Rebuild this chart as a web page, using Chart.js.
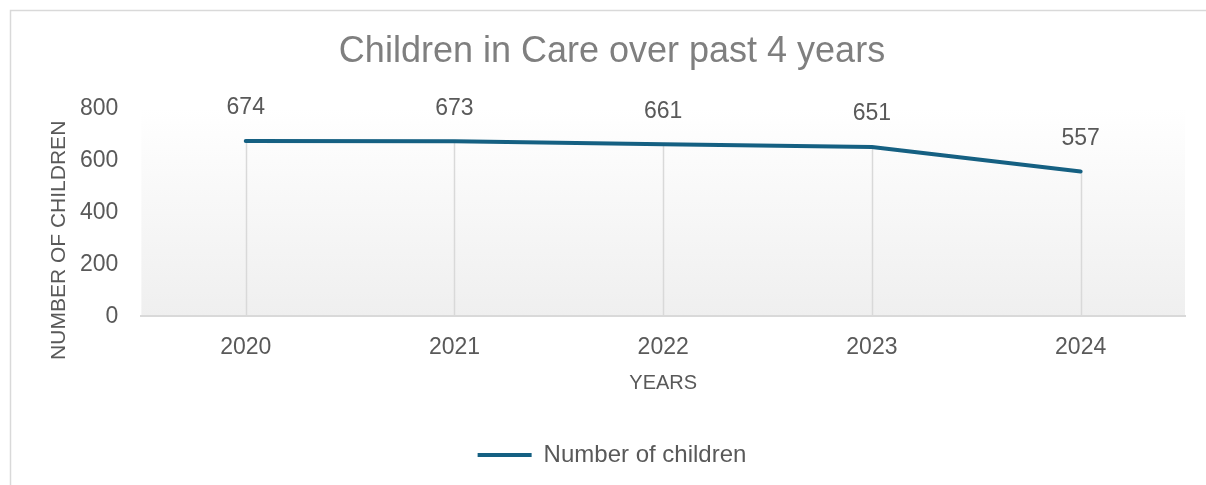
<!DOCTYPE html>
<html>
<head>
<meta charset="utf-8">
<title>Children in Care</title>
<script src="https://cdn.jsdelivr.net/npm/chart.js@4.4.1/dist/chart.umd.min.js"></script>
<style>
  html, body { margin: 0; padding: 0; background: #ffffff; }
  #wrap { position: relative; width: 1206px; height: 485px; }
</style>
</head>
<body>
<div id="wrap"><canvas id="careChart"></canvas></div>
<script>
// Chart data
const years = ['2020', '2021', '2022', '2023', '2024'];
const childrenCounts = [674, 673, 661, 651, 557];
const yTicks = [0, 200, 400, 600, 800];
const yAxisTitle = 'NUMBER OF CHILDREN';

const FONT = "'Liberation Sans', Arial, sans-serif";
const LINE_COLOR = '#156082';
const TEXT_COLOR = '#595959';

// Frame, plot gradient and drop lines drawn under the series
const backdrop = {
    id: 'backdrop',
    beforeDraw(chart) {
        const { ctx, chartArea: a, width, height } = chart;
        ctx.save();
        ctx.strokeStyle = '#d9d9d9';
        ctx.lineWidth = 1.5;
        ctx.beginPath();
        ctx.moveTo(10.5, height);
        ctx.lineTo(10.5, 10.5);
        ctx.lineTo(width, 10.5);
        ctx.stroke();

        const g = ctx.createLinearGradient(0, a.top, 0, a.bottom);
        g.addColorStop(0, '#ffffff');
        g.addColorStop(1, '#efefef');
        ctx.fillStyle = g;
        ctx.fillRect(a.left, a.top, a.right - a.left, a.bottom - a.top);

        // vertical axis title sits a little below the plot centre
        ctx.translate(59, (a.top + a.bottom) / 2 + 28);
        ctx.rotate(-Math.PI / 2);
        ctx.fillStyle = TEXT_COLOR;
        ctx.font = '21px ' + FONT;
        ctx.textAlign = 'center';
        ctx.textBaseline = 'middle';
        ctx.fillText(yAxisTitle, 0, 0);
        ctx.restore();
    },
    beforeDatasetsDraw(chart) {
        const { ctx } = chart;
        const yScale = chart.scales.y;
        const base = yScale.getPixelForValue(0);
        ctx.save();
        ctx.strokeStyle = '#d9d9d9';
        ctx.lineWidth = 1.5;
        chart.getDatasetMeta(0).data.forEach(pt => {
            ctx.beginPath();
            ctx.moveTo(Math.round(pt.x) + 0.5, pt.y);
            ctx.lineTo(Math.round(pt.x) + 0.5, base);
            ctx.stroke();
        });
        ctx.restore();
    }
};

// Value labels above each point
const valueLabels = {
    id: 'valueLabels',
    afterDatasetsDraw(chart) {
        const { ctx } = chart;
        const ds = chart.data.datasets[0];
        ctx.save();
        ctx.fillStyle = TEXT_COLOR;
        ctx.font = '23px ' + FONT;
        ctx.textAlign = 'center';
        ctx.textBaseline = 'middle';
        chart.getDatasetMeta(0).data.forEach((pt, i) => {
            ctx.fillText(String(ds.data[i]), pt.x, pt.y - 33);
        });
        ctx.restore();
    }
};

const ctx = document.getElementById('careChart').getContext('2d');
new Chart(ctx, {
    type: 'line',
    data: {
        labels: years,
        datasets: [{
            label: 'Number of children',
            data: childrenCounts,
            borderColor: LINE_COLOR,
            backgroundColor: LINE_COLOR,
            borderWidth: 4,
            borderCapStyle: 'round',
            borderJoinStyle: 'round',
            tension: 0,
            pointRadius: 0,
            pointHoverRadius: 0,
            fill: false
        }]
    },
    options: {
        responsive: true,
        maintainAspectRatio: false,
        animation: false,
        layout: {
            padding: { left: 39, right: 21, top: 10, bottom: 8 }
        },
        scales: {
            x: {
                offset: true,
                grid: { display: false, drawTicks: false },
                border: { display: true, color: '#d9d9d9', width: 2 },
                ticks: {
                    color: TEXT_COLOR,
                    font: { family: FONT, size: 23 },
                    padding: 17
                },
                title: {
                    display: true,
                    text: 'YEARS',
                    color: TEXT_COLOR,
                    font: { family: FONT, size: 20 },
                    padding: { top: -7, bottom: 38 }
                }
            },
            y: {
                min: 0,
                max: 800,
                afterBuildTicks(scale) {
                    scale.ticks = yTicks.map(v => ({ value: v }));
                },
                // room for the hand-drawn axis title
                afterFit(scale) {
                    scale.width += 18;
                },
                grid: { display: false, drawTicks: false },
                border: { display: false },
                ticks: {
                    color: TEXT_COLOR,
                    font: { family: FONT, size: 23 },
                    padding: 23
                }
            }
        },
        plugins: {
            title: {
                display: true,
                text: 'Children in Care over past 4 years',
                color: '#7f7f7f',
                font: { family: FONT, size: 36, weight: 'normal' },
                padding: { top: 20, bottom: 35 }
            },
            legend: {
                position: 'bottom',
                labels: {
                    color: TEXT_COLOR,
                    font: { family: FONT, size: 24 },
                    usePointStyle: true,
                    pointStyle: 'line',
                    pointStyleWidth: 54,
                    padding: 10
                }
            },
            tooltip: { enabled: false }
        }
    },
    plugins: [backdrop, valueLabels]
});
</script>
</body>
</html>
